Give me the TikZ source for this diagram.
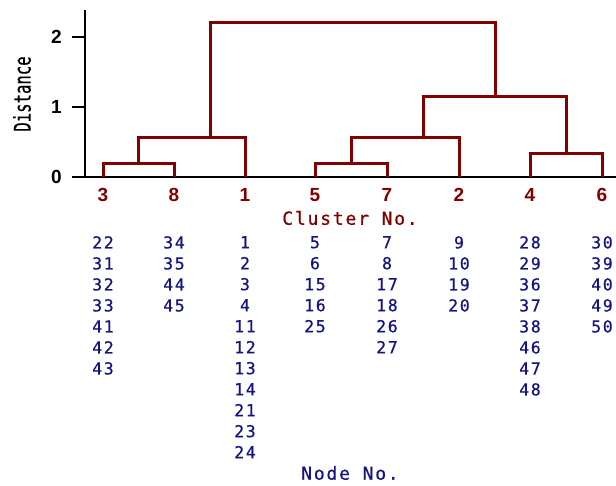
\documentclass[tikz,border=0pt]{standalone}
\usepackage{fontspec}
\setmainfont{Liberation Sans}
\newfontfamily\labelfont[LetterSpace=10, FakeBold=0.6]{DejaVu Sans Mono}
\newfontfamily\axisfont[FakeStretch=0.68, FakeBold=0.4]{DejaVu Sans Mono}
\usepackage{tikz}
\usetikzlibrary{positioning}
\definecolor{clusterred}{RGB}{130,0,0}
\definecolor{nodeblue}{RGB}{20,20,130}
\tikzstyle{link} = [draw=clusterred, line width=3pt, line join=miter]
\tikzstyle{axis} = [draw=black, line width=2.6pt]
\tikzstyle{tick} = [inner sep=0pt, font=\bfseries\fontsize{19}{19}\selectfont]
\tikzstyle{leaf} = [tick, text=clusterred]
\tikzstyle{members} = [text=nodeblue, align=center, anchor=north, inner sep=0pt, font=\labelfont\fontsize{16.5}{21}\selectfont]

\begin{document}
\begin{tikzpicture}[x=1pt, y=-1pt]
        \useasboundingbox (0,0) rectangle (616,485);

        % axes
        \coordinate (origin) at (85,177);
        \coordinate (top) at (85,10);
        \coordinate (axend) at (616,177);
        \coordinate (t0) at (72,177);
        \coordinate (t1) at (72,107);
        \coordinate (t2) at (72,37);
        \draw [axis] (top) -- (origin);
        \draw [axis] (t0) -- (axend);
        \draw [axis] (t1) -- (t1 -| origin);
        \draw [axis] (t2) -- (t2 -| origin);
        \node [tick, left=10pt of t0] (y0) {0};
        \node [tick, left=10pt of t1] (y1) {1};
        \node [tick, left=10pt of t2] (y2) {2};
        \node [rotate=90, inner sep=0pt, font=\axisfont\fontsize{23}{23}\selectfont] (ylabel) at (22,94) {Distance};

        % leaves
        \foreach \c/\x in {3/103, 8/174, 1/245, 5/315, 7/387, 2/459, 4/530, 6/602} {
            \coordinate (l\c) at (\x,177);
            \node [leaf] (c\c) at (\x,195) {\c};
        }
        \node [inner sep=0pt, text=clusterred, font=\labelfont\fontsize{18}{18}\selectfont] (xlabel) at (350,218) {Cluster No.};

        % merge points
        \coordinate (m38) at (138,163);
        \coordinate (m381) at (210,137);
        \coordinate (m57) at (351,163);
        \coordinate (m572) at (423,137);
        \coordinate (m46) at (566,153);
        \coordinate (mright) at (495,96);
        \coordinate (mall) at (352,22);

        \draw [link] (l3) |- (m38) -| (l8);
        \draw [link] (m38) |- (m381) -| (l1);
        \draw [link] (l5) |- (m57) -| (l7);
        \draw [link] (m57) |- (m572) -| (l2);
        \draw [link] (l4) |- (m46) -| (l6);
        \draw [link] (m572) |- (mright) -| (m46);
        \draw [link] (m381) |- (mall) -| (mright);

        % node lists
        \node [members] (n3) at (103,236) {22\\31\\32\\33\\41\\42\\43};
        \node [members] (n8) at (174,236) {34\\35\\44\\45};
        \node [members] (n1) at (245,236) {1\\2\\3\\4\\11\\12\\13\\14\\21\\23\\24};
        \node [members] (n5) at (315,236) {5\\6\\15\\16\\25};
        \node [members] (n7) at (387,236) {7\\8\\17\\18\\26\\27};
        \node [members] (n2) at (459,236) {9\\10\\19\\20};
        \node [members] (n4) at (530,236) {28\\29\\36\\37\\38\\46\\47\\48};
        \node [members] (n6) at (602,236) {30\\39\\40\\49\\50};
        \node [inner sep=0pt, text=nodeblue, font=\labelfont\fontsize{18}{18}\selectfont] (nlabel) at (350,473) {Node No.};
\end{tikzpicture}
\end{document}
